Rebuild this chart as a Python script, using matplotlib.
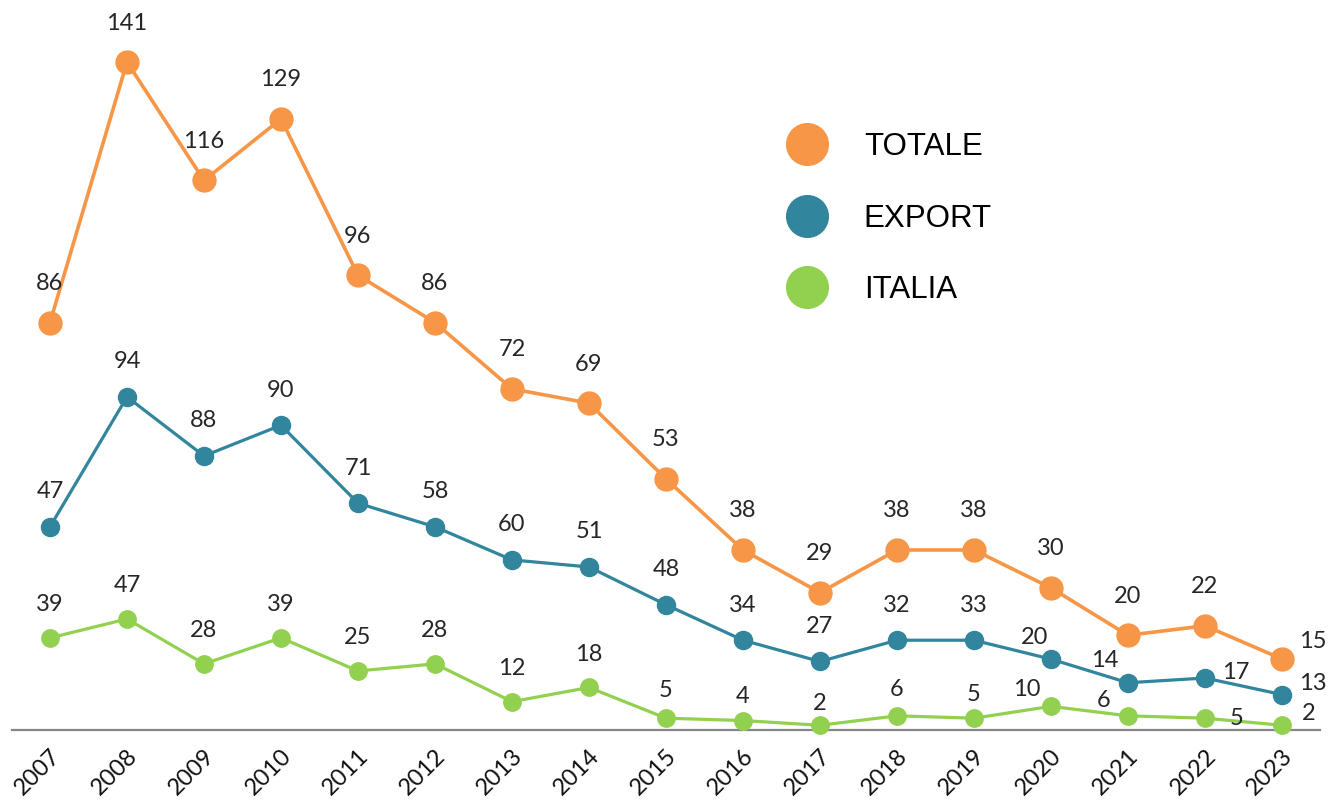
import matplotlib
matplotlib.use("Agg")
import matplotlib.pyplot as plt
from matplotlib.lines import Line2D

years = ["2007", "2008", "2009", "2010", "2011", "2012", "2013", "2014", "2015",
         "2016", "2017", "2018", "2019", "2020", "2021", "2022", "2023"]
totale = [86, 141, 116, 129, 96, 86, 72, 69, 53, 38, 29, 38, 38, 30, 20, 22, 15]
export = [47, 94, 88, 90, 71, 58, 60, 51, 48, 34, 27, 32, 33, 20, 14, 17, 13]
italia = [39, 47, 28, 39, 25, 28, 12, 18, 5, 4, 2, 6, 5, 10, 6, 5, 2]

# label offsets in pixels (style only)
off_tot = [(0, 39)] * 16 + [(31, 17)]
off_exp = [(0, 35)] * 13 + [(-16, 22), (-23, 22), (31, 6), (31, 11)]
off_ita = ([(0, 33)] * 8 + [(0, 28), (0, 24), (0, 22), (0, 26), (0, 24)]
           + [(-24, 17), (-24, 15), (32, 0), (27, 12)])

C_TOT = "#F79646"
C_EXP = "#31859C"
C_ITA = "#92D050"
LBL = "Lato"

W, H = 1330, 807
fig = plt.figure(figsize=(W / 100, H / 100), dpi=100)
ax = fig.add_axes([11.5 / W, 77 / H, 1309 / W, 730 / H])
ax2 = ax.twinx()

x = list(range(len(years)))
ax.set_xlim(-0.5, len(years) - 0.5)
ax.set_ylim(0, 154.1)
ax2.set_ylim(0, 309.0)

# TOTALE on primary axis
ax.plot(x, totale, color=C_TOT, lw=2.6, marker="o", ms=16.5, clip_on=False, zorder=3)
# EXPORT and ITALIA on secondary axis (as in the source chart)
ax2.plot(x, totale, color=C_EXP, lw=2.3, marker="o", ms=13, clip_on=False, zorder=3)
ax2.plot(x, italia, color=C_ITA, lw=2.3, marker="o", ms=12.5, clip_on=False, zorder=3)

for i in x:
    ax.annotate(str(totale[i]), (i, totale[i]), xytext=off_tot[i], textcoords="offset pixels",
                ha="center", va="center", fontsize=17, family=LBL, color="#262626")
    ax2.annotate(str(export[i]), (i, totale[i]), xytext=off_exp[i], textcoords="offset pixels",
                 ha="center", va="center", fontsize=17, family=LBL, color="#262626")
    ax2.annotate(str(italia[i]), (i, italia[i]), xytext=off_ita[i], textcoords="offset pixels",
                 ha="center", va="center", fontsize=17, family=LBL, color="#262626")

for a in (ax, ax2):
    for s in ("top", "right", "left"):
        a.spines[s].set_visible(False)
    a.set_yticks([])
ax.spines["bottom"].set_color("#868686")
ax.spines["bottom"].set_linewidth(1.6)
ax2.spines["bottom"].set_visible(False)

ax.set_xticks(x)
ax.set_xticklabels(years, rotation=45, ha="right", va="top", rotation_mode="anchor",
                   fontsize=17, family=LBL, color="#111111")
ax.tick_params(axis="x", length=0, pad=11)

handles = [Line2D([], [], ls="none", marker="o", ms=30, color=c) for c in (C_TOT, C_EXP, C_ITA)]
leg = fig.legend(handles, ["TOTALE", "EXPORT", "ITALIA"], loc="upper left",
                 bbox_to_anchor=(791 / W, 1 - 132 / H), frameon=False,
                 prop={"family": "Liberation Sans", "size": 22.5},
                 handlelength=1.0, handletextpad=1.33, labelspacing=1.33, borderpad=0,
                 borderaxespad=0)
for t in leg.get_texts():
    t.set_color("black")

fig.savefig("out.png", dpi=100)
